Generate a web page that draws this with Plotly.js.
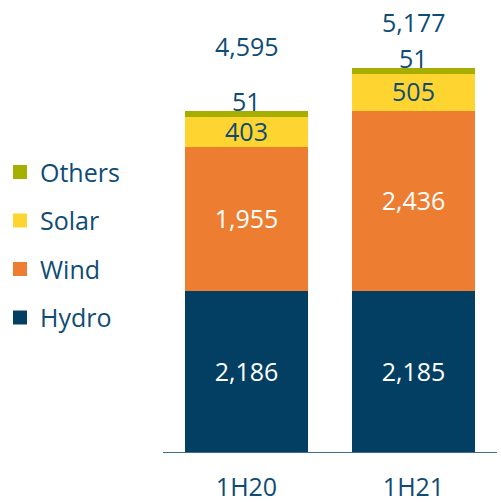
<!DOCTYPE html>
<html><head><meta charset="utf-8">
<script src="https://cdn.plot.ly/plotly-3.0.1.min.js"></script>
<style>html,body{margin:0;padding:0;background:#fff}</style>
</head><body>
<div id="chart" style="width:501px;height:502px"></div>
<script>
const categories = ['1H20', '1H21'];
const hydro  = [2186, 2185];
const wind   = [1955, 2436];
const solar  = [403, 505];
const others = [51, 51];
const totals = [4595, 5177];

const TXT = '#0f4c75';
const FONT = 'Open Sans, sans-serif';
const FS = 25;

function bar(name, vals, color, textColor, rank) {
  return {
    type: 'bar', name: name, x: categories, y: vals,
    marker: {color: color, line: {color: color, width: 2}},
    texttemplate: '%{y:,}', textposition: 'inside', insidetextanchor: 'middle',
    constraintext: 'none',
    textfont: {family: FONT, size: FS, color: textColor},
    legendgroup: name, legendrank: rank, hoverinfo: 'skip'
  };
}
const traces = [
  bar('Hydro', hydro, '#033f63', '#ffffff', 4),
  bar('Wind', wind, '#ed7d31', '#ffffff', 3),
  bar('Solar', solar, '#fed530', TXT, 2),
  Object.assign(bar('Others', others, '#a6ae00', TXT, 1), {texttemplate: '', textposition: 'none'})
];

const totalShift = [66, 46.5];
const annotations = [];
categories.forEach((c, i) => {
  const top = hydro[i] + wind[i] + solar[i] + others[i];
  annotations.push({x: c, y: top, xref: 'x', yref: 'y', text: String(others[i]),
    showarrow: false, yanchor: 'middle', yshift: 11, font: {family: FONT, size: FS, color: TXT}});
  annotations.push({x: c, y: top, xref: 'x', yref: 'y', text: totals[i].toLocaleString('en-US'),
    showarrow: false, yanchor: 'middle', yshift: totalShift[i], font: {family: FONT, size: FS, color: TXT}});
});

const layout = {
  width: 501, height: 502,
  margin: {l: 163, r: 4, t: 0, b: 50},
  paper_bgcolor: '#fff', plot_bgcolor: '#fff',
  barmode: 'stack', bargap: 0.27,
  showlegend: true,
  legend: {x: -0.49, xanchor: 'left', y: 0.67, yanchor: 'top', traceorder: 'grouped',
           tracegroupgap: 13, font: {family: FONT, size: FS, color: TXT}, bgcolor: 'rgba(0,0,0,0)'},
  xaxis: {range: [-0.5, 1.5], showline: true, linecolor: '#3d6e92', linewidth: 1, ticks: '',
          showgrid: false, zeroline: false, ticklabelstandoff: 13,
          tickfont: {family: FONT, size: FS, color: TXT}, fixedrange: true},
  yaxis: {range: [0, 6108], visible: false, fixedrange: true},
  annotations: annotations
};
Plotly.newPlot('chart', traces, layout, {displayModeBar: false, staticPlot: true});
</script>
</body></html>
